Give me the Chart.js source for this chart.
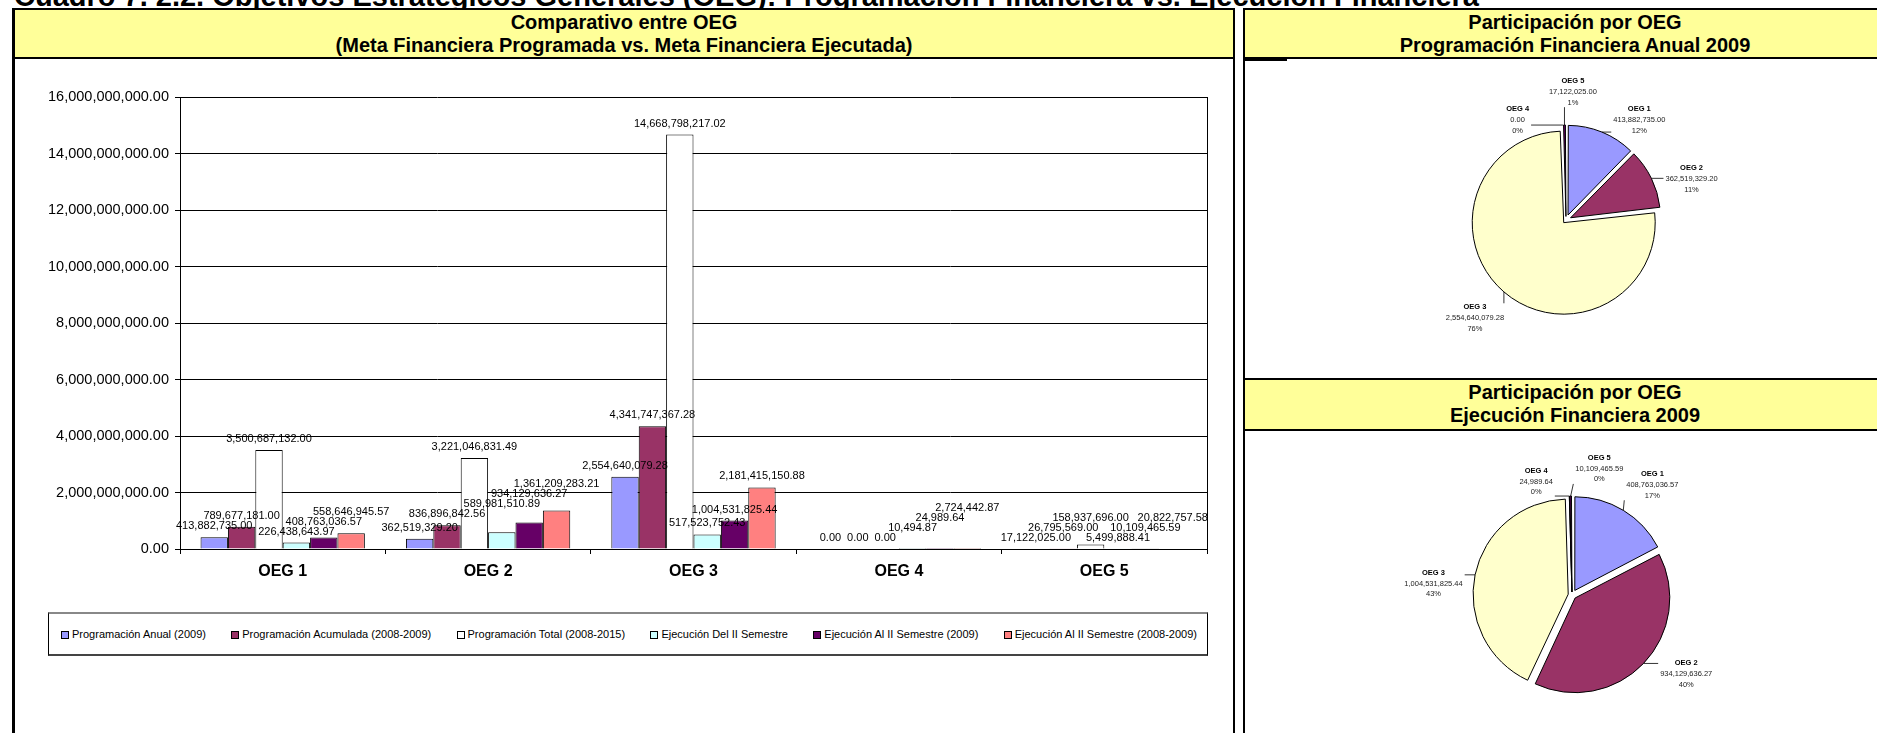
<!DOCTYPE html>
<html>
<head>
<meta charset="utf-8">
<script src="https://cdn.jsdelivr.net/npm/chart.js@4.4.0/dist/chart.umd.min.js"></script>
<style>
  body { margin: 0; background: #fff; overflow: hidden; width: 1877px; height: 733px; position: relative;
         font-family: "Liberation Sans", Arial, sans-serif; }
  .abs { position: absolute; box-sizing: border-box; }
  #title { left: 14px; top: -18px; font-size: 29px; font-weight: bold; line-height: 29px; white-space: nowrap; z-index: 0; }
  .panel { border: 2px solid #000; background: #fff; z-index: 1; }
  .head { background: #FFFF99; border: 2px solid #000; z-index: 2; text-align: center;
          font-weight: bold; font-size: 20px; line-height: 23px; padding-top: 1px; white-space: nowrap; overflow: hidden; }
  #legend { left: 48px; top: 612px; width: 1160px; height: 44px; border: 1px solid #000;
            border-top: 2px solid #888; border-bottom: 2px solid #444; z-index: 3;
            display: flex; align-items: center; justify-content: space-between; padding: 0 10px 0 12px;
            font-size: 11px; background: #fff; }
  .sw { display: inline-block; width: 6px; height: 6px; border: 1px solid #000; margin-right: 3px; vertical-align: -1px; }
  canvas { position: absolute; z-index: 3; }
</style>
</head>
<body>
<div id="title" class="abs">Cuadro 7. 2.2. Objetivos Estratégicos Generales (OEG): Programación Financiera vs. Ejecución Financiera</div>

<div class="abs panel" style="left:12px; top:8px; width:1223px; height:800px; border-left-width:3px;"></div>
<div class="abs head" style="left:12px; top:8px; width:1223px; height:51px; border-left-width:3px;">Comparativo entre OEG<br>(Meta Financiera Programada vs. Meta Financiera Ejecutada)</div>

<div class="abs panel" style="left:1243px; top:8px; width:664px; height:800px;"></div>
<div class="abs head" style="left:1243px; top:8px; width:664px; height:51px;">Participación por OEG<br>Programación Financiera Anual 2009</div>
<div class="abs" style="left:1243px; top:57px; width:44px; height:4px; background:#000; z-index:2;"></div>
<div class="abs head" style="left:1243px; top:378px; width:664px; height:53px;">Participación por OEG<br>Ejecución Financiera 2009</div>

<canvas id="barChart" width="1217" height="530" style="left:15px; top:60px;"></canvas>
<div id="legend" class="abs"></div>
<canvas id="pieProg" width="640" height="316" style="left:1246px; top:62px;"></canvas>
<canvas id="pieEjec" width="630" height="320" style="left:1257px; top:435px;"></canvas>

<script>
// Bar chart data
const categories = ['OEG 1', 'OEG 2', 'OEG 3', 'OEG 4', 'OEG 5'];
const seriesNames = [
  'Programación Anual (2009)',
  'Programación Acumulada (2008-2009)',
  'Programación Total (2008-2015)',
  'Ejecución Del II Semestre',
  'Ejecución Al II Semestre (2009)',
  'Ejecución Al II Semestre (2008-2009)'
];
const progAnual     = [413882735.00, 362519329.20, 2554640079.28, 0.00, 17122025.00];
const progAcumulada = [789677181.00, 836896842.56, 4341747367.28, 0.00, 26795569.00];
const progTotal     = [3500687132.00, 3221046831.49, 14668798217.02, 0.00, 158937696.00];
const ejecDelII     = [226438643.97, 589981510.89, 517523752.43, 10494.87, 5499888.41];
const ejecAlII2009  = [408763036.57, 934129636.27, 1004531825.44, 24989.64, 10109465.59];
const ejecAlII0809  = [558646945.57, 1361209283.21, 2181415150.88, 2724442.87, 20822757.58];
const seriesColors  = ['#9999FF', '#993366', '#FFFFFF', '#CCFFFF', '#660066', '#FF8080'];
const yMax = 16000000000;
const yStep = 2000000000;

// Pie data
const pieLabels = ['OEG 1', 'OEG 2', 'OEG 3', 'OEG 4', 'OEG 5'];
const pieProgAnual = [413882735.00, 362519329.20, 2554640079.28, 0.00, 17122025.00];
const pieEjecucion = [408763036.57, 934129636.27, 1004531825.44, 24989.64, 10109465.59];
const pieColors = ['#9999FF', '#993366', '#FFFFCC', '#CCFFFF', '#660066'];

const FONT = '"Liberation Sans", Arial, sans-serif';
Chart.defaults.font.family = FONT;
Chart.defaults.color = '#000';

function fmt(v) {
  return v.toLocaleString('en-US', { minimumFractionDigits: 2, maximumFractionDigits: 2 });
}

// value labels above bars, pushed up when they collide (like the sheet does)
const barLabels = {
  id: 'barLabels',
  afterDatasetsDraw(chart) {
    const ctx = chart.ctx;
    ctx.save();
    ctx.font = '11px ' + FONT;
    ctx.fillStyle = '#000';
    ctx.textAlign = 'center';
    ctx.textBaseline = 'middle';
    const h = 10;
    const placed = [];
    chart.data.labels.forEach((_, i) => {
      chart.data.datasets.forEach((ds, d) => {
        const bar = chart.getDatasetMeta(d).data[i];
        const text = fmt(ds.data[i]);
        const w = ctx.measureText(text).width;
        let y = bar.y - 11;
        let moved = true;
        while (moved) {
          moved = false;
          for (const r of placed) {
            if (Math.abs(r.x - bar.x) < (r.w + w) / 2 && Math.abs(r.y - y) < h) {
              y = r.y - h;
              moved = true;
            }
          }
        }
        placed.push({ x: bar.x, y: y, w: w });
        ctx.fillText(text, bar.x, y);
      });
    });
    ctx.restore();
  }
};

const plotBorder = {
  id: 'plotBorder',
  afterDraw(chart) {
    const a = chart.chartArea, ctx = chart.ctx;
    ctx.save();
    ctx.strokeStyle = '#000';
    ctx.lineWidth = 1;
    ctx.beginPath();
    ctx.moveTo(Math.round(a.right) + 0.5, a.top);
    ctx.lineTo(Math.round(a.right) + 0.5, a.bottom);
    ctx.stroke();
    ctx.restore();
  }
};

const barData = [progAnual, progAcumulada, progTotal, ejecDelII, ejecAlII2009, ejecAlII0809];

new Chart(document.getElementById('barChart'), {
  type: 'bar',
  data: {
    labels: categories,
    datasets: seriesNames.map((name, k) => ({
      label: name,
      data: barData[k],
      backgroundColor: seriesColors[k],
      borderColor: '#000',
      borderWidth: 1,
      categoryPercentage: 0.8,
      barPercentage: 1.0
    }))
  },
  options: {
    responsive: false,
    animation: false,
    layout: { padding: { left: 15, top: 37, right: 25, bottom: 0 } },
    plugins: { legend: { display: false }, tooltip: { enabled: false } },
    scales: {
      x: {
        grid: { drawOnChartArea: false, color: '#000', tickLength: 5, offset: true },
        border: { color: '#000', width: 1 },
        ticks: { font: { size: 16, weight: 'bold' }, color: '#000', padding: 8 },
        afterFit(s) { s.height = 41; }
      },
      y: {
        min: 0, max: yMax,
        grid: { color: '#000', lineWidth: 1, tickLength: 5 },
        border: { color: '#000', width: 1 },
        ticks: { stepSize: yStep, font: { size: 14.5 }, color: '#000', padding: 6, callback: v => fmt(v) },
        afterFit(s) { s.width = 150; }
      }
    }
  },
  plugins: [barLabels, plotBorder]
});

// html legend built from the series arrays
const legend = document.getElementById('legend');
seriesNames.forEach((name, k) => {
  const item = document.createElement('span');
  item.innerHTML = '<span class="sw" style="background:' + seriesColors[k] + '"></span>' + name;
  legend.appendChild(item);
});

// pie labels: name / value / percent with leader line to the slice
const pieLabelsPlugin = {
  id: 'pieLabelsPlugin',
  afterDatasetsDraw(chart, args, opts) {
    const ctx = chart.ctx;
    const ds = chart.data.datasets[0];
    const meta = chart.getDatasetMeta(0);
    const total = ds.data.reduce((a, b) => a + b, 0);
    ctx.save();
    meta.data.forEach((arc, i) => {
      const p = arc.getProps(['x', 'y', 'startAngle', 'endAngle', 'outerRadius'], true);
      const mid = (p.startAngle + p.endAngle) / 2;
      const edgeR = p.outerRadius + opts.explode;
      const ex = p.x + Math.cos(mid) * edgeR;
      const ey = p.y + Math.sin(mid) * edgeR;
      const a = mid + opts.nudge[i] * Math.PI / 180;
      const lx = p.x + Math.cos(a) * (edgeR + opts.gap[i]);
      const ly = p.y + Math.sin(a) * (edgeR + opts.gap[i]);
      const lines = [chart.data.labels[i], fmt(ds.data[i]), Math.round(ds.data[i] / total * 100) + '%'];
      ctx.font = 'bold 7.5px ' + FONT;
      let w = ctx.measureText(lines[0]).width;
      ctx.font = '7.5px ' + FONT;
      w = Math.max(w, ctx.measureText(lines[1]).width, ctx.measureText(lines[2]).width);
      const rx0 = lx - w / 2 - 2, rx1 = lx + w / 2 + 2, ry0 = ly - 15, ry1 = ly + 15;
      const tx = Math.min(Math.max(ex, rx0), rx1);
      const ty = Math.min(Math.max(ey, ry0), ry1);
      ctx.strokeStyle = '#000';
      ctx.lineWidth = 0.8;
      ctx.beginPath();
      ctx.moveTo(ex, ey);
      ctx.lineTo(tx, ty);
      ctx.stroke();
      ctx.textAlign = 'center';
      ctx.textBaseline = 'middle';
      ctx.fillStyle = '#000';
      ctx.font = 'bold 7.5px ' + FONT;
      ctx.fillText(lines[0], lx, ly - 11);
      ctx.font = '7.5px ' + FONT;
      ctx.fillStyle = '#222';
      ctx.fillText(lines[1], lx, ly);
      ctx.fillText(lines[2], lx, ly + 10.5);
    });
    ctx.restore();
  }
};

// Chart.js moves an arc by offset/4 * (2 - sin(angle)); pick offsets so every
// slice ends up pulled out by the same number of pixels
function explodeOffsets(values, px) {
  const total = values.reduce((a, b) => a + b, 0);
  return values.map(v => {
    const circ = v / total * Math.PI * 2;
    const fix = 1 - Math.sin(Math.min(Math.PI, circ));
    return 4 * px / (1 + fix);
  });
}

function makePie(id, values, radius, explode, nudge, gap) {
  new Chart(document.getElementById(id), {
    type: 'pie',
    data: {
      labels: pieLabels,
      datasets: [{
        data: values,
        backgroundColor: pieColors,
        borderColor: '#000',
        borderWidth: 1,
        offset: explodeOffsets(values, explode)
      }]
    },
    options: {
      responsive: false,
      animation: false,
      radius: radius,
      layout: { padding: 0 },
      plugins: {
        legend: { display: false },
        tooltip: { enabled: false },
        pieLabelsPlugin: { nudge: nudge, gap: gap, explode: explode }
      }
    },
    plugins: [pieLabelsPlugin]
  });
}

makePie('pieProg', pieProgAnual, 88, 7, [14, 8, 2, -24, 4], [29, 37, 39, 16, 33]);
makePie('pieEjec', pieEjecucion, 93, 6, [5, -9, -7, -16, 13], [37, 40, 40, 20, 30]);
</script>
</body>
</html>
